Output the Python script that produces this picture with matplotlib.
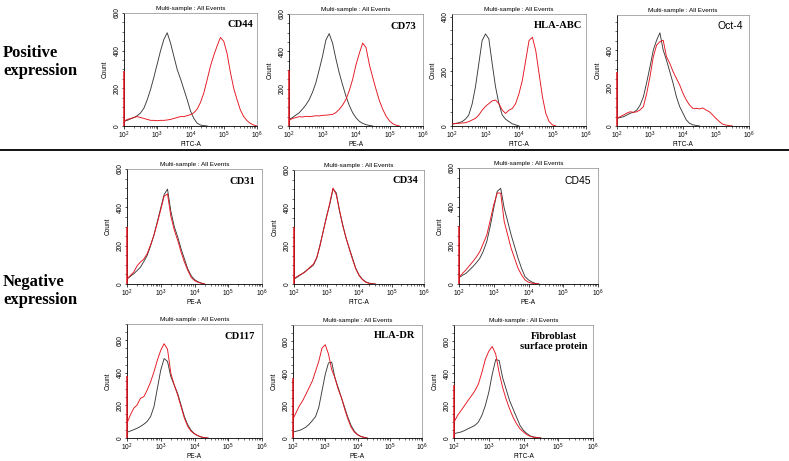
import numpy as np
import matplotlib
matplotlib.use("Agg")
import matplotlib.pyplot as plt
from matplotlib.ticker import LogLocator, MultipleLocator, AutoMinorLocator, LogFormatterSciNotation

# ---------------- data (counts at log10 steps of 0.1 starting at 10^2) ----------------
LOG_START = 2.0
LOG_STEP = 0.1

markers = ["CD44", "CD73", "HLA-ABC", "Oct-4", "CD31", "CD34", "CD45",
           "CD117", "HLA-DR", "Fibroblast\nsurface protein"]
channels = ["FITC-A", "PE-A", "FITC-A", "FITC-A", "PE-A", "FITC-A", "PE-A",
            "PE-A", "PE-A", "FITC-A"]
y_max = [600, 600, 410, 585, 600, 600, 600, 700, 700, 700]
edge_red = [290, 300, 0, 286, 300, 300, 300, 380, 373, 330]

cd44_iso = [25, 30, 38, 45, 55, 70, 95, 140, 195, 260, 330, 400, 460, 495, 440, 370, 300,
            250, 195, 140, 80, 40, 15, 5, 2, 0]
cd44_stain = [25, 35, 40, 45, 50, 45, 40, 35, 30, 30, 28, 30, 30, 32, 35, 40, 45, 50, 50, 55,
              60, 70, 90, 125, 175, 245, 318, 375, 425, 470, 450, 385, 285, 200, 140, 85, 50,
              28, 14, 5, 0]
cd73_iso = [35, 45, 58, 70, 90, 112, 140, 180, 230, 300, 373, 460, 495, 444, 360, 284, 220,
            160, 110, 71, 44, 25, 14, 7, 3, 0]
cd73_stain = [30, 40, 45, 50, 48, 52, 50, 52, 55, 54, 57, 58, 60, 62, 72, 89, 112, 142, 190,
              250, 328, 390, 444, 420, 328, 260, 195, 135, 89, 52, 27, 12, 4, 0]
hlaabc_iso = [7, 9, 12, 16, 25, 40, 80, 143, 228, 313, 337, 319, 228, 143, 82, 40, 25, 16, 8,
              4, 0]
hlaabc_stain = [7, 9, 10, 11, 12, 16, 22, 28, 40, 58, 72, 82, 92, 95, 82, 58, 46, 58, 64, 82,
                119, 167, 240, 313, 325, 276, 191, 107, 46, 16, 4, 0]
oct4_iso = [40, 45, 49, 58, 67, 72, 84, 110, 154, 230, 312, 400, 452, 491, 400, 347, 286, 225,
            154, 102, 67, 32, 14, 6, 3, 0]
oct4_stain = [40, 50, 58, 68, 75, 72, 75, 85, 102, 172, 260, 365, 426, 444, 452, 365, 330, 286,
              251, 216, 172, 137, 110, 93, 93, 90, 95, 84, 75, 58, 40, 23, 10, 5, 2, 0]
cd31_iso = [26, 40, 53, 70, 88, 118, 150, 200, 256, 326, 397, 467, 495, 379, 300, 247, 185,
            132, 79, 44, 23, 12, 5, 0]
cd31_stain = [26, 45, 62, 95, 115, 130, 159, 205, 256, 320, 388, 458, 470, 353, 282, 229, 168,
              115, 71, 35, 18, 9, 4, 0]
cd34_iso = [26, 36, 48, 60, 74, 86, 100, 136, 206, 277, 356, 418, 500, 480, 383, 312, 242, 189,
            136, 83, 48, 26, 12, 5, 2, 0]
cd34_stain = [28, 40, 50, 58, 72, 90, 105, 140, 200, 280, 350, 425, 505, 470, 390, 305, 245,
              185, 130, 80, 45, 24, 10, 4, 1, 0]
cd45_iso = [33, 45, 55, 72, 90, 110, 133, 170, 220, 300, 393, 479, 495, 393, 324, 254, 194, 133,
            81, 38, 21, 10, 3, 0]
cd45_stain = [33, 55, 73, 95, 116, 140, 168, 210, 254, 330, 410, 471, 470, 324, 254, 185, 133,
              81, 47, 21, 9, 4, 2, 0]
cd117_iso = [35, 43, 51, 60, 71, 85, 102, 132, 193, 305, 417, 488, 470, 376, 325, 274, 203, 132,
             81, 47, 26, 14, 6, 2, 0]
cd117_stain = [91, 142, 183, 203, 244, 254, 295, 345, 407, 478, 539, 579, 545, 396, 325, 264,
               193, 122, 71, 41, 26, 14, 6, 2, 0]
hladr_iso = [37, 42, 47, 56, 67, 85, 108, 133, 190, 292, 394, 465, 470, 373, 312, 251, 190, 129,
             78, 43, 22, 10, 4, 0]
hladr_stain = [118, 159, 200, 231, 271, 312, 353, 414, 476, 557, 578, 520, 424, 373, 302, 251,
               180, 118, 67, 37, 20, 9, 4, 0]
fibro_iso = [27, 32, 37, 46, 57, 67, 78, 98, 139, 200, 282, 394, 486, 480, 373, 302, 231, 180,
             129, 78, 47, 27, 12, 6, 3, 0]
fibro_stain = [98, 139, 169, 200, 231, 261, 292, 333, 404, 486, 537, 567, 520, 404, 312, 241,
               180, 129, 88, 57, 37, 20, 10, 4, 2, 0]

iso_series = [cd44_iso, cd73_iso, hlaabc_iso, oct4_iso, cd31_iso, cd34_iso, cd45_iso,
              cd117_iso, hladr_iso, fibro_iso]
stain_series = [cd44_stain, cd73_stain, hlaabc_stain, oct4_stain, cd31_stain, cd34_stain,
                cd45_stain, cd117_stain, hladr_stain, fibro_stain]
sans_label = [False, False, False, True, False, False, True, False, False, False]

# ---------------- layout (pixel boxes: left, right, top, bottom) ----------------
W, H = 789, 461
boxes = [(124, 257, 13, 126), (289, 423, 14, 126), (452, 586, 14, 126), (617, 749, 15, 126),
         (127, 262, 169, 284), (294, 424, 170, 284), (459, 598, 168, 284),
         (127, 262, 324, 438), (293, 422, 325, 438), (454, 593, 325, 438)]
label_pos = [(240, 24.5), (403, 26.5), (558, 26), (730, 26), (242, 181.5), (405, 180.5),
             (578, 180.5), (240, 336), (395, 335), (554, 341.5)]

fig = plt.figure(figsize=(W / 100, H / 100), dpi=100)
fig.patch.set_facecolor("white")

SANS = ["Liberation Sans", "DejaVu Sans"]
SERIF = ["Liberation Serif", "DejaVu Serif"]
RED = "#e5121c"
GRAY = "#3a3a3a"

for i in range(len(markers)):
    l, r, t, b = boxes[i]
    ax = fig.add_axes([l / W, 1 - b / H, (r - l) / W, (b - t) / H])
    iso = iso_series[i]
    st = stain_series[i]
    x_iso = 10 ** (LOG_START + LOG_STEP * np.arange(len(iso)))
    x_st = 10 ** (LOG_START + LOG_STEP * np.arange(len(st)))
    ax.plot(x_iso, iso, color=GRAY, lw=0.65, zorder=3)
    ax.plot(x_st, st, color=RED, lw=0.65, zorder=4)
    if edge_red[i] > 0:
        ax.vlines(1e2, 0, edge_red[i], color=RED, lw=1.1, zorder=5, clip_on=False)
    ax.set_xscale("log")
    ax.set_xlim(1e2, 1e6)
    ax.set_ylim(0, y_max[i])
    ax.xaxis.set_major_locator(LogLocator(base=10, numticks=10))
    ax.xaxis.set_minor_locator(LogLocator(base=10, subs=np.arange(2, 10), numticks=20))
    ax.xaxis.set_major_formatter(LogFormatterSciNotation())
    ax.yaxis.set_major_locator(MultipleLocator(200))
    ax.yaxis.set_minor_locator(AutoMinorLocator(4))
    ax.tick_params(axis="both", which="major", length=1.8, width=0.5, labelsize=4.7,
                   pad=0.8, direction="out")
    ax.tick_params(axis="both", which="minor", length=1.1, width=0.4)
    for lab in ax.get_yticklabels():
        lab.set_rotation(90)
        lab.set_va("center")
        lab.set_family(SANS)
    for lab in ax.get_xticklabels():
        lab.set_family(SANS)
    for s in ["left", "bottom"]:
        ax.spines[s].set_linewidth(0.6)
        ax.spines[s].set_color("black")
    for s in ["top", "right"]:
        ax.spines[s].set_linewidth(0.5)
        ax.spines[s].set_color("#8a8a8a")
    ax.set_xlabel(channels[i], fontsize=4.7, family=SANS, labelpad=0.3)
    ax.set_ylabel("Count", fontsize=4.7, family=SANS, labelpad=3.5)
    ax.set_title("Multi-sample : All Events", fontsize=4.6, family=SANS, pad=2.5)
    lx, ly = label_pos[i]
    if sans_label[i]:
        fig.text(lx / W, 1 - ly / H, markers[i], fontsize=7.5, family=SANS,
                 ha="center", va="center")
    else:
        fig.text(lx / W, 1 - ly / H, markers[i], fontsize=7.6, family=SERIF, weight="bold",
                 ha="center", va="center", linespacing=1.25)

# group labels
fig.text(3 / W, 1 - 62 / H, "Positive\nexpression", fontsize=12, family=SERIF,
         weight="bold", ha="left", va="center", linespacing=1.1)
fig.text(3 / W, 1 - 291 / H, "Negative\nexpression", fontsize=12, family=SERIF,
         weight="bold", ha="left", va="center", linespacing=1.1)

# separator line
fig.add_artist(plt.Line2D([0, 1], [1 - 150 / H, 1 - 150 / H], color="black", lw=1.3,
                          transform=fig.transFigure))

fig.savefig("out.png", dpi=100, facecolor="white")
